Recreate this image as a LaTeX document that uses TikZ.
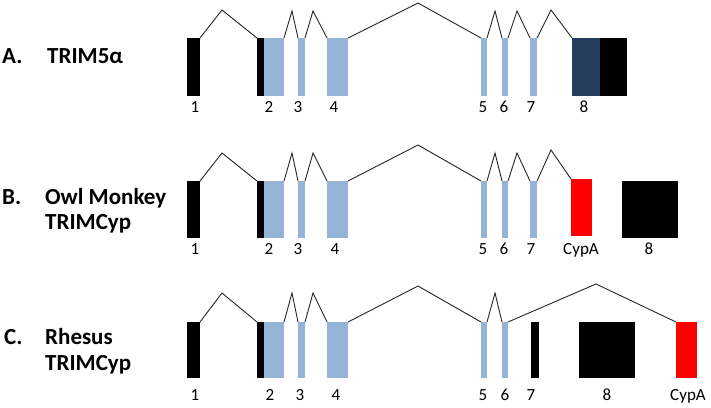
\documentclass[tikz,border=0pt]{standalone}
\usepackage{fontspec}
\setmainfont{Carlito}
\definecolor{exblue}{RGB}{149,179,215}
\definecolor{exnavy}{RGB}{36,61,92}
\definecolor{exred}{RGB}{255,0,0}
\newcommand\myexon[6]{\node[exon,fill=#2,minimum width=#5pt,minimum height=#6pt] (#1) at (#3,#4) {};}
\begin{document}
\begin{tikzpicture}[x=1pt,y=-1pt,
  exon/.style={rectangle,inner sep=0pt,outer sep=0pt,anchor=north west,draw=none},
  intron/.style={line width=0.9pt,black!85,line join=miter},
  num/.style={anchor=base,font=\fontsize{17}{19}\selectfont,inner sep=0pt},
  ttl/.style={anchor=base west,font=\bfseries\fontsize{23}{25}\selectfont,inner sep=0pt}]
\useasboundingbox[fill=white] (0,0) rectangle (711,407);

% ---------- Row A ----------
\node[ttl] (tA) at (2,63) {A.};
\node[ttl] (nA) at (47,63) {TRIM5α};
\myexon{A1}{black}{187}{38}{13}{58}
\myexon{A2k}{black}{257}{38}{7}{58}
\myexon{A2}{exblue}{264}{38}{20}{58}
\myexon{A3}{exblue}{298}{38}{7}{58}
\myexon{A4}{exblue}{327}{38}{21}{58}
\myexon{A5}{exblue}{481}{38}{6}{58}
\myexon{A6}{exblue}{502}{38}{6}{58}
\myexon{A7}{exblue}{530}{38}{7}{58}
\myexon{A8n}{exnavy}{572}{38}{28}{58}
\myexon{A8}{black}{600}{38}{27}{58}
\draw[intron] (A1.north east) -- (222,10) -- (A2k.north west);
\draw[intron] (A2.north east) -- (292,11) -- (A3.north west);
\draw[intron] (A3.north east) -- (313,11) -- (A4.north west);
\draw[intron] (A4.north east) -- (418,3) -- (A5.north west);
\draw[intron] (A5.north east) -- (495,11) -- (A6.north west);
\draw[intron] (A6.north east) -- (517,11) -- (A7.north west);
\draw[intron] (A7.north east) -- (551,10) -- (A8n.north west);
\node[num] (lA1) at (195,112) {1};
\node[num] (lA2) at (269,112) {2};
\node[num] (lA3) at (298,112) {3};
\node[num] (lA4) at (334,112) {4};
\node[num] (lA5) at (483,112) {5};
\node[num] (lA6) at (504,112) {6};
\node[num] (lA7) at (531,112) {7};
\node[num] (lA8) at (584,112) {8};

% ---------- Row B ----------
\node[ttl] (tB) at (2,204) {B.};
\node[ttl] (nB1) at (45,204) {Owl Monkey};
\node[ttl] (nB2) at (45,229) {TRIMCyp};
\myexon{B1}{black}{187}{181}{13}{57}
\myexon{B2k}{black}{257}{181}{7}{57}
\myexon{B2}{exblue}{264}{181}{20}{57}
\myexon{B3}{exblue}{298}{181}{7}{57}
\myexon{B4}{exblue}{327}{181}{21}{57}
\myexon{B5}{exblue}{481}{181}{6}{57}
\myexon{B6}{exblue}{502}{181}{6}{57}
\myexon{B7}{exblue}{530}{181}{7}{57}
\myexon{BC}{exred}{571}{179}{21}{57}
\myexon{B8}{black}{622}{181}{56}{57}
\draw[intron] (B1.north east) -- (222,153) -- (B2k.north west);
\draw[intron] (B2.north east) -- (292,153) -- (B3.north west);
\draw[intron] (B3.north east) -- (313,153) -- (B4.north west);
\draw[intron] (B4.north east) -- (418,145) -- (B5.north west);
\draw[intron] (B5.north east) -- (495,153) -- (B6.north west);
\draw[intron] (B6.north east) -- (517,153) -- (B7.north west);
\draw[intron] (B7.north east) -- (551,150) -- (BC.north west);
\node[num] (lB1) at (195,254) {1};
\node[num] (lB2) at (269,254) {2};
\node[num] (lB3) at (298,254) {3};
\node[num] (lB4) at (335,254) {4};
\node[num] (lB5) at (483,254) {5};
\node[num] (lB6) at (504,254) {6};
\node[num] (lB7) at (531,254) {7};
\node[num] (lBC) at (581,254) {CypA};
\node[num] (lB8) at (649,254) {8};

% ---------- Row C ----------
\node[ttl] (tC) at (4,344) {C.};
\node[ttl] (nC1) at (45,344) {Rhesus};
\node[ttl] (nC2) at (45,370) {TRIMCyp};
\myexon{C1}{black}{187}{322}{13}{56}
\myexon{C2k}{black}{257}{322}{7}{56}
\myexon{C2}{exblue}{264}{322}{20}{56}
\myexon{C3}{exblue}{298}{322}{7}{56}
\myexon{C4}{exblue}{327}{322}{21}{56}
\myexon{C5}{exblue}{481}{322}{6}{56}
\myexon{C6}{exblue}{502}{322}{6}{56}
\myexon{C7}{black}{531}{322}{8}{56}
\myexon{C8}{black}{579}{322}{56}{56}
\myexon{CC}{exred}{676}{322}{21}{56}
\draw[intron] (C1.north east) -- (222,293) -- (C2k.north west);
\draw[intron] (C2.north east) -- (292,293) -- (C3.north west);
\draw[intron] (C3.north east) -- (313,293) -- (C4.north west);
\draw[intron] (C4.north east) -- (418,286) -- (C5.north west);
\draw[intron] (C5.north east) -- (495,293) -- (C6.north west);
\draw[intron] (C6.north east) -- (596,284) -- (CC.north west);
\node[num] (lC1) at (195,400) {1};
\node[num] (lC2) at (270,400) {2};
\node[num] (lC3) at (300,400) {3};
\node[num] (lC4) at (336,400) {4};
\node[num] (lC5) at (483,400) {5};
\node[num] (lC6) at (505,400) {6};
\node[num] (lC7) at (531,400) {7};
\node[num] (lC8) at (607,400) {8};
\node[num] (lCC) at (688,400) {CypA};
\end{tikzpicture}
\end{document}
